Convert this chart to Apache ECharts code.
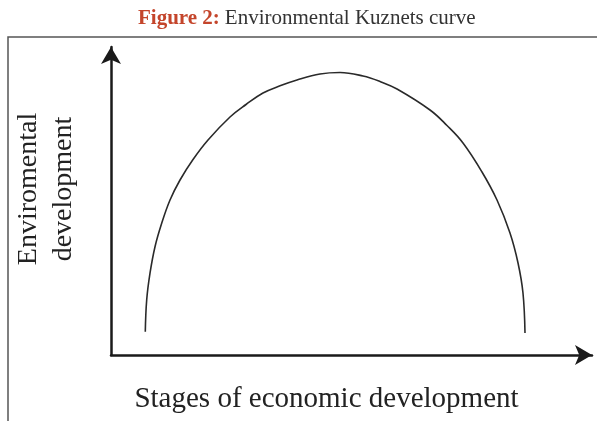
<!DOCTYPE html>
<html>
<head>
<meta charset="utf-8">
<script src="https://cdn.jsdelivr.net/npm/echarts@6/dist/echarts.min.js"></script>
<style>
  html, body { margin: 0; padding: 0; background: #fff; }
  #main { width: 597px; height: 421px; }
</style>
</head>
<body>
<div id="main"></div>
<script>
// stages of economic development (x)
let stageValues = [7.13, 7.42, 8.11, 9.15, 10.54, 12.27, 14.35, 17.05, 20.17, 24.74, 28.07, 31.6,
                   35.14, 38.67, 43.45, 47.61, 52.39, 55.93, 59.46, 66.32, 69.85, 73.18, 77.13,
                   80.25, 82.95, 84.62, 85.65, 86.07];
// environmental development (y) at the same points
let envValues = [7.56, 17.86, 26.56, 35.16, 42.76, 50.32, 56.82, 63.47, 69.81, 77.27, 81.33, 85.06,
                 87.4, 89.29, 91.23, 91.72, 90.58, 88.8, 86.36, 79.55, 74.51, 68.83, 59.42,
                 50.32, 39.61, 29.87, 20.13, 7.14];

let xName = 'Stages of economic development';
let yName = 'Enviromental\ndevelopment';

let serif = '"Liberation Serif", "DejaVu Serif", serif';

let curveData = stageValues.map(function(x, i) {
    return [x, envValues[i]];
});

let myChart = echarts.init(document.getElementById('main'));

let axisLine = {
    show: true,
    symbol: ['none', 'arrow'],
    symbolSize: [15, 17],
    lineStyle: { color: '#1a1a1a', width: 2.5 }
};

let options = {
    backgroundColor: '#fff',
    animation: false,
    title: {
        text: '{a|Figure 2:} {b|Environmental Kuznets curve}',
        left: 133,
        top: 3,
        textStyle: {
            rich: {
                a: { fontFamily: serif, fontSize: 21, fontWeight: 'bold', color: '#c4452b' },
                b: { fontFamily: serif, fontSize: 21, fontWeight: 'normal', color: '#333' }
            }
        }
    },
    grid: {
        left: 111,
        right: 5,
        top: 47,
        bottom: 66,
        outerBoundsMode: 'none'
    },
    xAxis: {
        type: 'value',
        min: 0,
        max: 100,
        name: xName,
        nameLocation: 'middle',
        nameGap: 30,
        nameTextStyle: {
            fontFamily: serif, fontSize: 29, color: '#222',
            padding: [0, 50, 0, 0]
        },
        axisLine: axisLine,
        axisTick: { show: false },
        axisLabel: { show: false },
        splitLine: { show: false }
    },
    yAxis: {
        type: 'value',
        min: 0,
        max: 100,
        name: yName,
        nameLocation: 'middle',
        nameGap: 30,
        nameRotate: 90,
        nameTextStyle: {
            fontFamily: serif, fontSize: 28, color: '#222', lineHeight: 35,
            padding: [0, 0, 0, 24]
        },
        axisLine: axisLine,
        axisTick: { show: false },
        axisLabel: { show: false },
        splitLine: { show: false }
    },
    graphic: [
        {
            type: 'polyline',
            shape: { points: [[8, 421], [8, 37], [597, 37]] },
            style: { stroke: '#555', lineWidth: 1.5, fill: null }
        }
    ],
    series: [
        {
            type: 'line',
            data: curveData,
            smooth: 0.4,
            showSymbol: false,
            lineStyle: { color: '#2a2a2a', width: 1.6 }
        }
    ]
};

myChart.setOption(options);
</script>
</body>
</html>
